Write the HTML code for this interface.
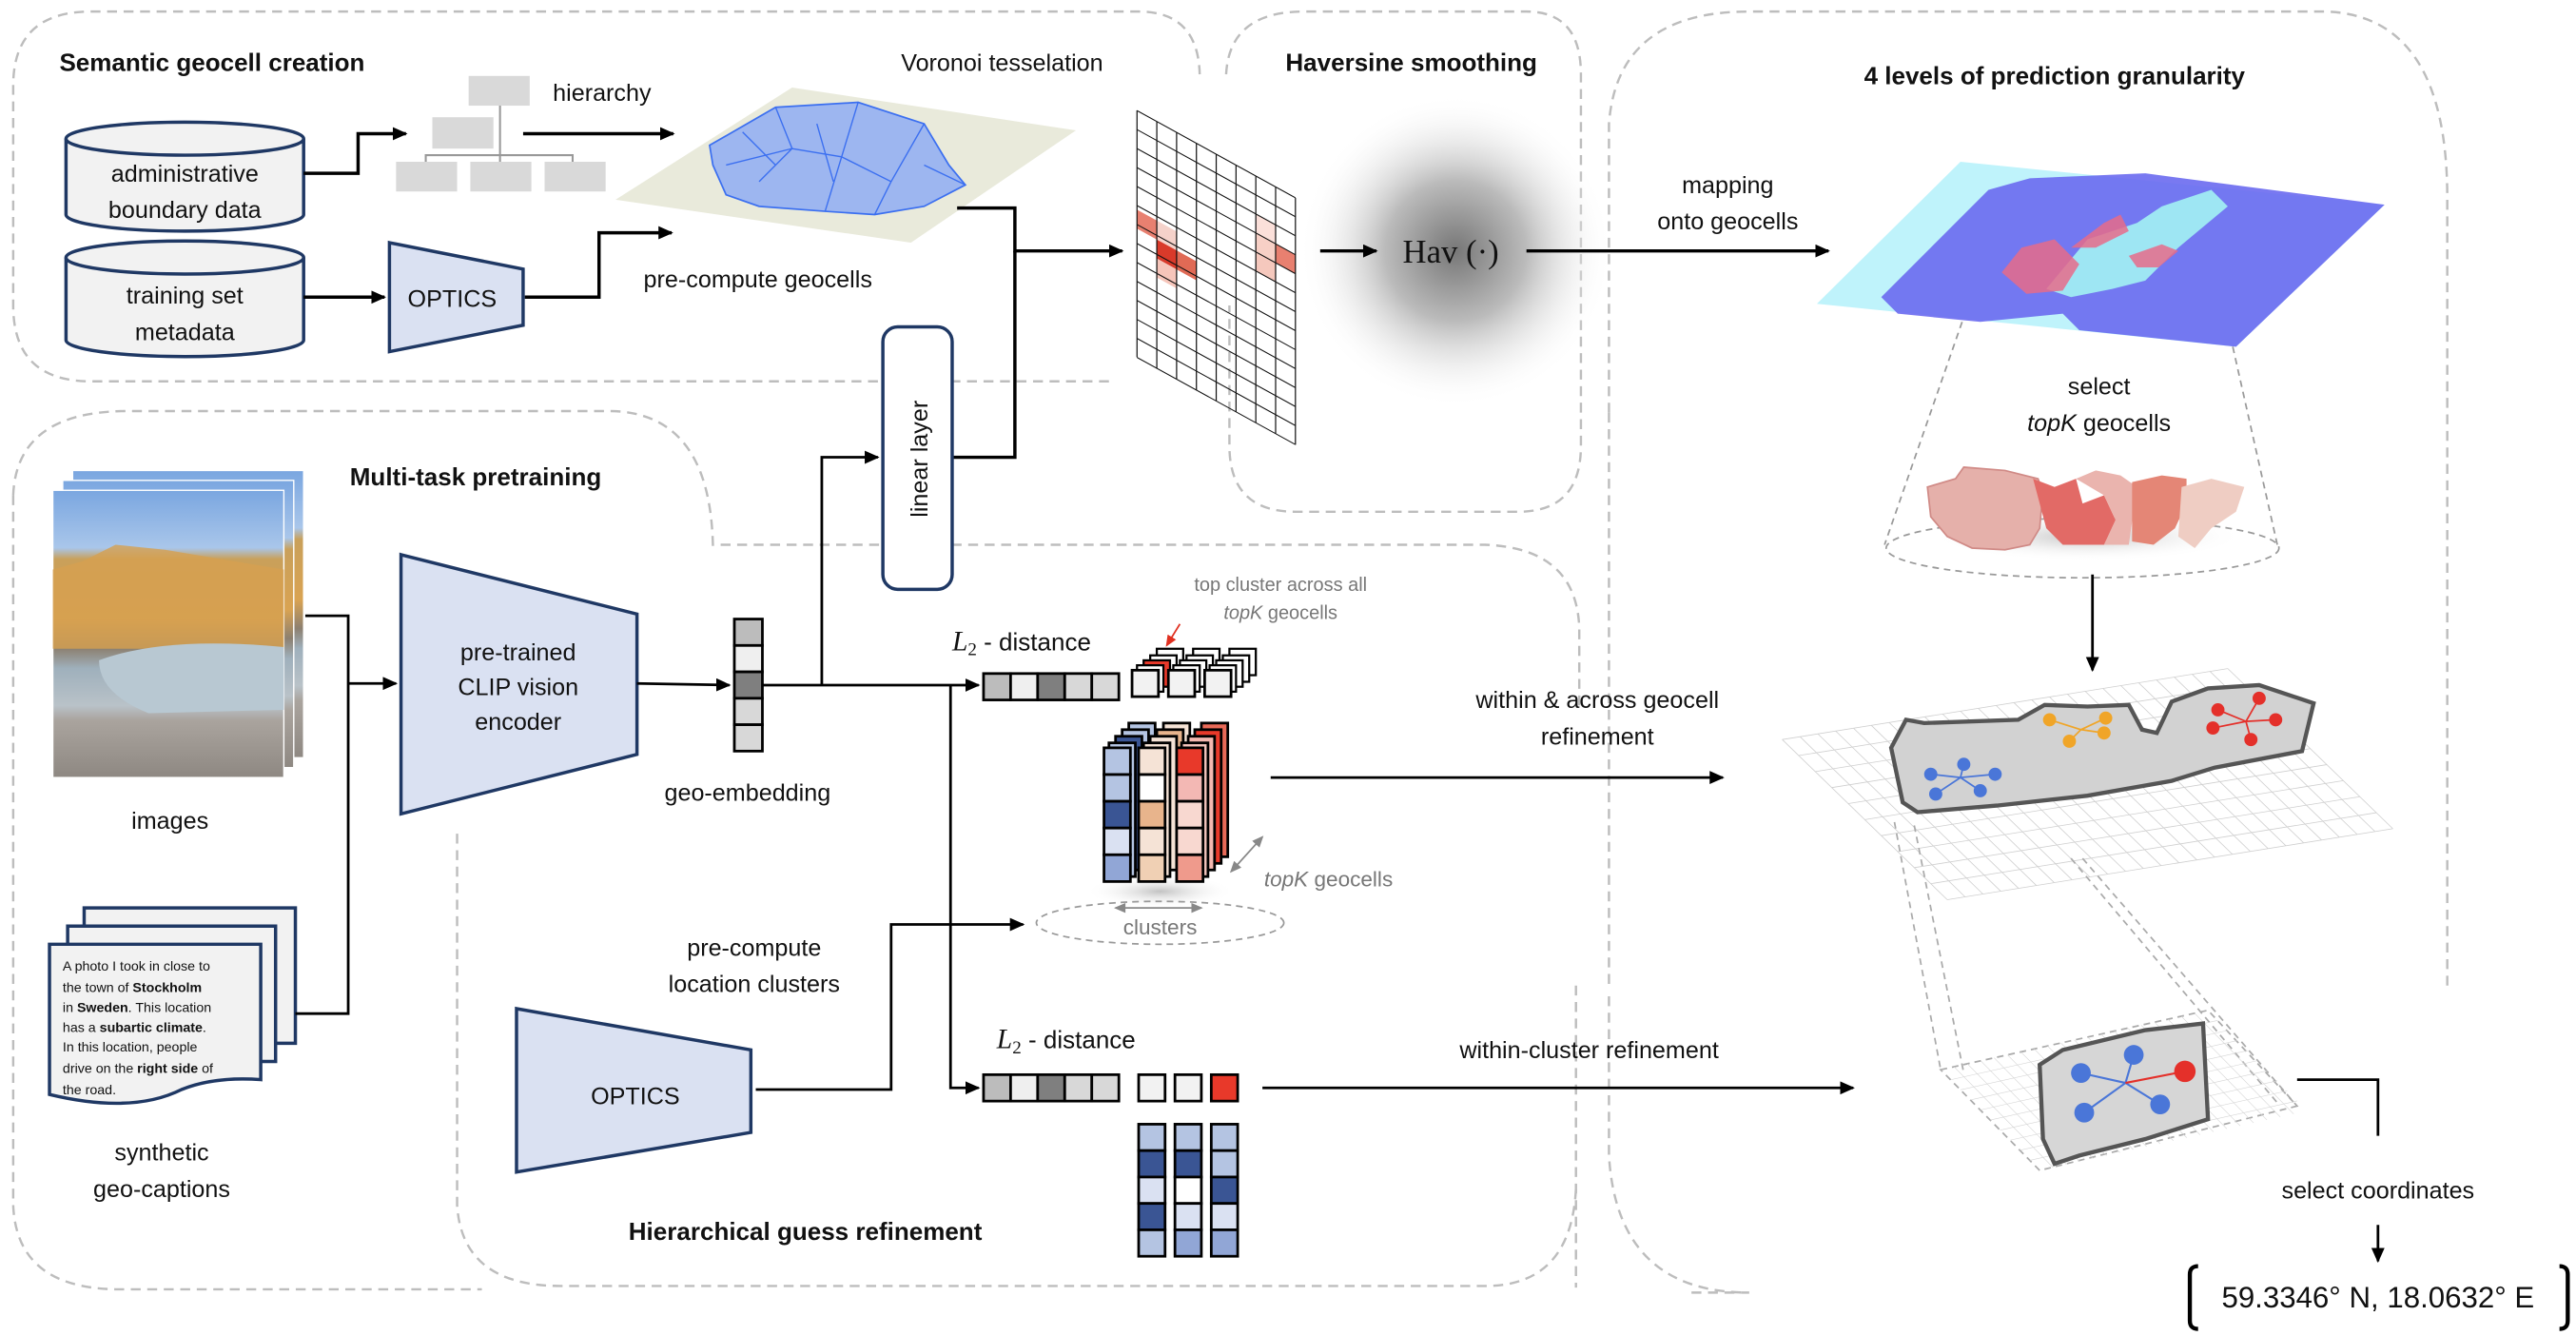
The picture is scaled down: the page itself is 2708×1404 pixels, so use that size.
<!DOCTYPE html>
<html><head><meta charset="utf-8">
<style>
html,body{margin:0;padding:0;background:#fff;}
svg{display:block;}
text{font-family:"Liberation Sans",sans-serif;fill:#111;}
.b{font-weight:bold;}
</style></head>
<body>
<svg width="2708" height="1404" viewBox="0 0 1561 809.3" preserveAspectRatio="none" xmlns="http://www.w3.org/2000/svg">
<defs>
<marker id="ar" markerWidth="10" markerHeight="10" refX="8" refY="4" orient="auto" markerUnits="userSpaceOnUse"><path d="M0,0 L9,4 L0,8 z" fill="#000"/></marker>
<marker id="ag" markerWidth="8" markerHeight="8" refX="6" refY="3" orient="auto" markerUnits="userSpaceOnUse"><path d="M0,0 L7,3 L0,6 z" fill="#888"/></marker>
<marker id="agr" markerWidth="8" markerHeight="8" refX="1" refY="3" orient="auto" markerUnits="userSpaceOnUse"><path d="M7,0 L0,3 L7,6 z" fill="#888"/></marker>
<marker id="arr" markerWidth="8" markerHeight="8" refX="6" refY="3" orient="auto" markerUnits="userSpaceOnUse"><path d="M0,0 L7,3 L0,6 z" fill="#e03020"/></marker>
<radialGradient id="hav"><stop offset="0" stop-color="#777"/><stop offset="0.45" stop-color="#bbb"/><stop offset="1" stop-color="#fff" stop-opacity="0"/></radialGradient>
<linearGradient id="photo" x1="0" y1="0" x2="0" y2="1">
<stop offset="0" stop-color="#7aa6e0"/><stop offset="0.2" stop-color="#a9c6ea"/><stop offset="0.24" stop-color="#c9a05a"/><stop offset="0.45" stop-color="#d9a352"/><stop offset="0.55" stop-color="#8c8070"/><stop offset="0.62" stop-color="#9fb0bc"/><stop offset="0.75" stop-color="#b9c2c8"/><stop offset="0.8" stop-color="#aaa49e"/><stop offset="1" stop-color="#8e8882"/></linearGradient>
<radialGradient id="shadow"><stop offset="0" stop-color="#999" stop-opacity="0.6"/><stop offset="1" stop-color="#fff" stop-opacity="0"/></radialGradient>
</defs>

<!-- dashed panels -->
<g fill="none" stroke="#bdbdbd" stroke-width="1.4" stroke-dasharray="6,4">
<path d="M672,231 L55,231 Q8,231 8,185 L8,52 Q8,7 55,7 L690,7 Q726,7 727,45"/>
<path d="M743,45 Q745,7 790,7 L925,7 Q958,7 958,45 L958,270 Q958,310 920,310 L785,310 Q745,310 745,270 L745,185"/>
<path d="M975,250 L975,75 Q980,7 1060,7 L1410,7 Q1483,10 1483,120 L1483,600"/>
<path d="M975,250 L975,597"/>
<path d="M955,597 L955,780"/>
<path d="M1025,783 L1060,783 Q980,783 975,700 L975,600"/>
<path d="M8,300 Q10,250 75,249 L370,249 Q430,250 432,330 L900,330 Q955,332 957,380 L957,430"/>
<path d="M8,300 L8,730 Q10,780 70,781 L292,781"/>
<path d="M277,505 L277,730 Q280,779 340,779 L900,779 Q952,779 955,720"/>
</g>

<!-- Semantic geocell creation -->
<text x="36" y="43" font-size="15" class="b">Semantic geocell creation</text>
<!-- cylinders -->
<g stroke="#1f3864" stroke-width="2" fill="#f2f2f2">
<path d="M40,84 L40,130 A72,10 0 0 0 184,130 L184,84"/>
<ellipse cx="112" cy="84" rx="72" ry="10"/>
<path d="M40,156 L40,206 A72,10 0 0 0 184,206 L184,156"/>
<ellipse cx="112" cy="156" rx="72" ry="10"/>
</g>
<text x="112" y="110" font-size="14.5" text-anchor="middle">administrative</text>
<text x="112" y="132" font-size="14.5" text-anchor="middle">boundary data</text>
<text x="112" y="184" font-size="14.5" text-anchor="middle">training set</text>
<text x="112" y="206" font-size="14.5" text-anchor="middle">metadata</text>
<!-- hierarchy -->
<g fill="#d9d9d9">
<rect x="284" y="46" width="37" height="18"/>
<rect x="262" y="71" width="37" height="19"/>
<rect x="240" y="98" width="37" height="18"/>
<rect x="285" y="98" width="37" height="18"/>
<rect x="330" y="98" width="37" height="18"/>
</g>
<path d="M303,64 L303,98 M258,98 L258,94 L347,94 L347,98" stroke="#999" stroke-width="1.2" fill="none"/>
<text x="335" y="61" font-size="14.5">hierarchy</text>
<g stroke="#000" stroke-width="2" fill="none">
<path d="M184,105 L217,105 L217,81 L246,81" marker-end="url(#ar)"/>
<path d="M317,81 L408,81" marker-end="url(#ar)"/>
<path d="M184,180 L233,180" marker-end="url(#ar)"/>
<path d="M318,180 L363,180 L363,141 L407,141" marker-end="url(#ar)"/>
</g>
<path d="M236,147 L317,163 L317,197 L236,213 Z" fill="#dae1f2" stroke="#1f3864" stroke-width="2"/>
<text x="274" y="186" font-size="14.5" text-anchor="middle">OPTICS</text>
<!-- voronoi map -->
<path d="M373,121 L480,53 L652,79 L552,147 Z" fill="#e9eadb"/>
<path d="M430,88 L470,65 L520,62 L560,75 L575,100 L585,112 L560,125 L530,130 L500,128 L460,125 L440,118 L432,100 Z" fill="#9db6f0" stroke="#3b6ff0" stroke-width="1"/>
<g stroke="#3b6ff0" stroke-width="0.8" fill="none">
<path d="M470,65 L480,90 L460,110 M480,90 L510,95 L520,62 M510,95 L540,110 L560,75 M540,110 L530,130 M510,95 L500,128 M440,100 L480,90 M560,100 L585,112 M450,80 L470,100 M495,75 L505,110"/>
</g>
<text x="546" y="43" font-size="14.5">Voronoi tesselation</text>
<text x="390" y="174" font-size="14.5">pre-compute geocells</text>
<g stroke="#000" stroke-width="2" fill="none">
<path d="M580,126 L615,126 L615,152 L680,152" marker-end="url(#ar)"/>
<path d="M577,277 L615,277 L615,152"/>
</g>
<!-- grid -->
<g transform="matrix(1,0.55,0,1,689,67)">
<rect x="0" y="60" width="12" height="11.5" fill="#e88070"/>
<rect x="12" y="60" width="12" height="11.5" fill="#f5d2ca"/>
<rect x="12" y="71.5" width="12" height="11.5" fill="#d93a2a"/>
<rect x="24" y="71.5" width="12" height="11.5" fill="#e06a55"/>
<rect x="12" y="83" width="12" height="11.5" fill="#f6c5ba"/>
<rect x="72" y="23" width="12" height="11.5" fill="#fbe0da"/>
<rect x="72" y="34.5" width="12" height="11.5" fill="#f7d0c6"/>
<rect x="72" y="46" width="12" height="11.5" fill="#f5c8bd"/>
<rect x="84" y="34.5" width="12" height="11.5" fill="#e88070"/>
<g stroke="#111" stroke-width="0.7">
<path d="M0,0V149.5M12,0V149.5M24,0V149.5M36,0V149.5M48,0V149.5M60,0V149.5M72,0V149.5M84,0V149.5M96,0V149.5"/>
<path d="M0,0H96M0,11.5H96M0,23H96M0,34.5H96M0,46H96M0,57.5H96M0,69H96M0,80.5H96M0,92H96M0,103.5H96M0,115H96M0,126.5H96M0,138H96M0,149.5H96"/>
</g>
</g>
<!-- Haversine -->
<text x="779" y="43" font-size="15" class="b">Haversine smoothing</text>
<circle cx="882" cy="152" r="95" fill="url(#hav)"/>
<path d="M800,152 L834,152" stroke="#000" stroke-width="2" marker-end="url(#ar)"/>
<text x="850" y="159" font-size="20" style="font-family:'Liberation Serif',serif">Hav (·)</text>
<path d="M925,152 L1108,152" stroke="#000" stroke-width="2" marker-end="url(#ar)"/>
<text x="1047" y="117" font-size="14.5" text-anchor="middle">mapping</text>
<text x="1047" y="139" font-size="14.5" text-anchor="middle">onto geocells</text>

<!-- Right panel -->
<text x="1245" y="51" font-size="15" class="b" text-anchor="middle">4 levels of prediction granularity</text>
<path d="M1101,184 L1188,98 L1445,124 L1355,210 Z" fill="#bff3fb"/>
<path d="M1140,180 L1170,150 L1205,115 L1230,108 L1300,105 L1445,124 L1355,210 L1260,200 L1250,190 L1200,195 L1150,190 Z" fill="#6a6af0" opacity="0.9"/>
<path d="M1240,175 L1265,145 L1295,135 L1310,125 L1340,115 L1350,125 L1320,150 L1300,170 L1280,175 L1255,180 Z" fill="#9ee6f3"/>
<path d="M1213,165 L1225,150 L1245,145 L1260,160 L1250,176 L1228,178 Z" fill="#e66b8a" opacity="0.85"/>
<path d="M1255,150 L1275,135 L1285,130 L1290,140 L1270,150 Z" fill="#e66b8a" opacity="0.85"/>
<path d="M1290,155 L1310,148 L1320,152 L1308,162 L1295,162 Z" fill="#e66b8a" opacity="0.85"/>
<text x="1272" y="239" font-size="14.5" text-anchor="middle">select</text>
<text x="1272" y="261" font-size="14.5" text-anchor="middle"><tspan font-style="italic">topK</tspan> geocells</text>
<g stroke="#999" stroke-width="1" stroke-dasharray="4,3" fill="none">
<path d="M1189,195 L1142,330"/><path d="M1353,210 L1380,330"/>
<ellipse cx="1262" cy="332" rx="119" ry="18"/>
</g>
<ellipse cx="1265" cy="325" rx="95" ry="15" fill="url(#shadow)"/>
<path d="M1168,295 L1185,290 L1190,283 L1215,285 L1235,290 L1238,298 L1236,320 L1230,330 L1215,333 L1195,332 L1180,325 L1170,313 Z" fill="#e5b0aa" stroke="#d08a86" stroke-width="1"/>
<path d="M1232,290 L1245,295 L1258,290 L1262,305 L1275,300 L1282,315 L1275,330 L1250,330 L1240,320 Z" fill="#e26a66"/>
<path d="M1258,290 L1270,285 L1285,288 L1295,295 L1290,330 L1275,330 L1282,315 L1275,300 Z" fill="#eab4ae"/>
<path d="M1292,292 L1310,288 L1325,290 L1325,305 L1318,320 L1305,330 L1292,328 Z" fill="#e48676"/>
<path d="M1322,295 L1340,290 L1360,295 L1355,310 L1340,320 L1330,332 L1320,325 Z" fill="#efcdc3"/>
<path d="M1268,348 L1268,406" stroke="#000" stroke-width="1.6" marker-end="url(#ar)"/>

<!-- grid plane big -->
<g transform="matrix(270,-43,100,97,1080,448)" stroke="#cfcfcf" fill="none">
<path vector-effect="non-scaling-stroke" stroke-width="0.8" d="M0,0V1M0.04,0V1M0.08,0V1M0.12,0V1M0.16,0V1M0.2,0V1M0.24,0V1M0.28,0V1M0.32,0V1M0.36,0V1M0.4,0V1M0.44,0V1M0.48,0V1M0.52,0V1M0.56,0V1M0.6,0V1M0.64,0V1M0.68,0V1M0.72,0V1M0.76,0V1M0.8,0V1M0.84,0V1M0.88,0V1M0.92,0V1M0.96,0V1M1,0V1"/>
<path vector-effect="non-scaling-stroke" stroke-width="0.8" d="M0,0H1M0,0.1H1M0,0.2H1M0,0.3H1M0,0.4H1M0,0.5H1M0,0.6H1M0,0.7H1M0,0.8H1M0,0.9H1M0,1H1"/>
</g>
<path d="M1146,453 L1155,436 L1166,438 L1223,436 L1239,427 L1265,428 L1290,427 L1298,442 L1307,444 L1316,425 L1338,417 L1369,415 L1402,426 L1395,455 L1342,465 L1316,473 L1265,482 L1210,488 L1162,492 L1153,486 Z" fill="#d2d2d2" stroke="#555" stroke-width="2.5"/>
<g stroke-width="1">
<g stroke="#4a76d8" fill="#4a76d8"><path d="M1188,471 L1170,469 M1188,471 L1190,463 M1188,471 L1209,469 M1188,471 L1200,479 M1188,471 L1173,481"/>
<circle cx="1170" cy="469" r="3.5"/><circle cx="1190" cy="463" r="3.5"/><circle cx="1209" cy="469" r="3.5"/><circle cx="1200" cy="479" r="3.5"/><circle cx="1173" cy="481" r="3.5"/></g>
<g stroke="#f0a528" fill="#f0a528"><path d="M1261,442 L1242,436 M1261,442 L1276,435 M1261,442 L1275,444 M1261,442 L1254,449"/>
<circle cx="1242" cy="436" r="3.5"/><circle cx="1276" cy="435" r="3.5"/><circle cx="1275" cy="444" r="3.5"/><circle cx="1254" cy="449" r="3.5"/></g>
<g stroke="#e4302a" fill="#e4302a"><path d="M1361,437 L1344,430 M1361,437 L1369,423 M1361,437 L1379,436 M1361,437 L1364,448 M1361,437 L1341,441"/>
<circle cx="1344" cy="430" r="3.5"/><circle cx="1369" cy="423" r="3.5"/><circle cx="1379" cy="436" r="3.5"/><circle cx="1364" cy="448" r="3.5"/><circle cx="1341" cy="441" r="3.5"/></g>
</g>
<g stroke="#aaa" stroke-width="1" stroke-dasharray="4,3" fill="none">
<path d="M1148,498 L1176,648"/><path d="M1160,500 L1190,650"/>
<path d="M1255,520 L1380,668"/><path d="M1262,520 L1392,670"/>
<path d="M1176,648 L1338,612 L1392,670 L1236,709 Z"/>
</g>
<g transform="matrix(162,-36,60,61,1176,648)" stroke="#d5d5d5" fill="none">
<path vector-effect="non-scaling-stroke" stroke-width="0.6" d="M0.05,0V1M0.1,0V1M0.15,0V1M0.2,0V1M0.25,0V1M0.3,0V1M0.35,0V1M0.4,0V1M0.45,0V1M0.5,0V1M0.55,0V1M0.6,0V1M0.65,0V1M0.7,0V1M0.75,0V1M0.8,0V1M0.85,0V1M0.9,0V1M0.95,0V1"/>
<path vector-effect="non-scaling-stroke" stroke-width="0.6" d="M0,0.1H1M0,0.2H1M0,0.3H1M0,0.4H1M0,0.5H1M0,0.6H1M0,0.7H1M0,0.8H1M0,0.9H1"/>
</g>
<path d="M1236,645 L1250,636 L1300,624 L1335,620 L1338,678 L1300,690 L1260,700 L1245,705 L1238,690 Z" fill="#d6d6d6" stroke="#555" stroke-width="2.5"/>
<g stroke-width="1.2">
<path d="M1288,656 L1261,650 M1288,656 L1293,639 M1288,656 L1263,674 M1288,656 L1309,669" stroke="#4a76d8"/>
<path d="M1288,656 L1324,649" stroke="#e4302a"/>
<g fill="#4a76d8"><circle cx="1261" cy="650" r="6"/><circle cx="1293" cy="639" r="6"/><circle cx="1263" cy="674" r="6"/><circle cx="1309" cy="669" r="6"/></g>
<circle cx="1324" cy="649" r="6.5" fill="#e4302a"/>
</g>
<path d="M1392,654 L1441,654 L1441,688" stroke="#000" stroke-width="1.6" fill="none"/>
<text x="1441" y="726" font-size="14.5" text-anchor="middle">select coordinates</text>
<path d="M1441,742 L1441,764" stroke="#000" stroke-width="1.6" marker-end="url(#ar)"/>
<path d="M1332,767 Q1327,767 1327,772 L1327,800 Q1327,805 1332,805" stroke="#000" stroke-width="2.5" fill="none"/>
<path d="M1551,767 Q1556,767 1556,772 L1556,800 Q1556,805 1551,805" stroke="#000" stroke-width="2.5" fill="none"/>
<text x="1441" y="792" font-size="18" text-anchor="middle">59.3346° N, 18.0632° E</text>

<!-- Multi-task -->
<text x="212" y="294" font-size="15" class="b">Multi-task pretraining</text>
<rect x="44" y="285" width="140" height="174" fill="url(#photo)" stroke="#fff" stroke-width="0.8"/>
<rect x="38" y="291" width="140" height="174" fill="url(#photo)" stroke="#fff" stroke-width="0.8"/>
<rect x="32" y="297" width="140" height="174" fill="url(#photo)" stroke="#fff" stroke-width="0.8"/>
<path d="M32,345 L50,340 L70,330 L100,333 L130,338 L172,345 L172,393 L32,393 Z" fill="#d6a050" opacity="0.8"/>
<path d="M60,400 Q100,385 172,392 L172,430 L90,432 Q60,420 60,400Z" fill="#b8c8d2"/>
<text x="103" y="502" font-size="14.5" text-anchor="middle">images</text>
<g stroke="#1f3864" stroke-width="2" fill="#f2f2f2">
<path d="M51,550 L179,550 L179,632 L51,632 Z"/>
<path d="M41,561 L167,561 L167,643 L41,643 Z"/>
<path d="M30,572 L158,572 L158,654 Q130,652 110,660 Q80,675 30,663 Z"/>
</g>
<g font-size="8.2">
<text x="38" y="588">A photo I took in close to</text>
<text x="38" y="601">the town of <tspan class="b">Stockholm</tspan></text>
<text x="38" y="613">in <tspan class="b">Sweden</tspan>. This location</text>
<text x="38" y="625">has a <tspan class="b">subartic climate</tspan>.</text>
<text x="38" y="637">In this location, people</text>
<text x="38" y="650">drive on the <tspan class="b">right side</tspan> of</text>
<text x="38" y="663">the road.</text>
</g>
<text x="98" y="703" font-size="14.5" text-anchor="middle">synthetic</text>
<text x="98" y="725" font-size="14.5" text-anchor="middle">geo-captions</text>
<g stroke="#000" stroke-width="1.6" fill="none">
<path d="M185,373 L211,373 L211,614 L179,614"/>
<path d="M211,414 L240,414" marker-end="url(#ar)"/>
</g>
<path d="M243,336 L386,372 L386,457 L243,493 Z" fill="#dae1f2" stroke="#1f3864" stroke-width="2"/>
<text x="314" y="400" font-size="14.5" text-anchor="middle">pre-trained</text>
<text x="314" y="421" font-size="14.5" text-anchor="middle">CLIP vision</text>
<text x="314" y="442" font-size="14.5" text-anchor="middle">encoder</text>
<path d="M386,414 L442,415" stroke="#000" stroke-width="1.6" marker-end="url(#ar)"/>
<g stroke="#000" stroke-width="1.6">
<rect x="445" y="375" width="17" height="16" fill="#bcbcbc"/>
<rect x="445" y="391" width="17" height="16" fill="#efefef"/>
<rect x="445" y="407" width="17" height="16" fill="#7f7f7f"/>
<rect x="445" y="423" width="17" height="16" fill="#d8d8d8"/>
<rect x="445" y="439" width="17" height="16" fill="#d8d8d8"/>
</g>
<text x="453" y="485" font-size="14.5" text-anchor="middle">geo-embedding</text>
<g stroke="#000" stroke-width="1.6" fill="none">
<path d="M462,415 L593,415" marker-end="url(#ar)"/>
<path d="M498,415 L498,277 L532,277" marker-end="url(#ar)"/>
<path d="M576,415 L576,659 L593,659" marker-end="url(#ar)"/>
<path d="M458,660 L540,660 L540,560 L620,560" marker-end="url(#ar)"/>
<path d="M770,471 L1044,471" marker-end="url(#ar)"/>
<path d="M765,659 L1123,659" marker-end="url(#ar)"/>
</g>
<rect x="535" y="198" width="42" height="159" rx="9" fill="#fff" stroke="#1f3864" stroke-width="2"/>
<text transform="translate(562,278) rotate(-90)" font-size="14.5" text-anchor="middle">linear layer</text>

<!-- Hierarchical -->
<path d="M313,611 L455,636 L455,686 L313,710 Z" fill="#dae1f2" stroke="#1f3864" stroke-width="2"/>
<text x="385" y="669" font-size="14.5" text-anchor="middle">OPTICS</text>
<text x="457" y="579" font-size="14.5" text-anchor="middle">pre-compute</text>
<text x="457" y="601" font-size="14.5" text-anchor="middle">location clusters</text>
<text x="488" y="751" font-size="15" class="b" text-anchor="middle">Hierarchical guess refinement</text>

<text x="577" y="394" font-size="15"><tspan style="font-family:'Liberation Serif',serif" font-style="italic" font-size="17">L</tspan><tspan font-size="11" dy="3" style="font-family:'Liberation Serif',serif">2</tspan><tspan dy="-3"> - distance</tspan></text>
<g stroke="#000" stroke-width="1.6">
<rect x="596" y="408" width="16.4" height="16" fill="#bcbcbc"/><rect x="612.4" y="408" width="16.4" height="16" fill="#efefef"/><rect x="628.8" y="408" width="16.4" height="16" fill="#7f7f7f"/><rect x="645.2" y="408" width="16.4" height="16" fill="#d8d8d8"/><rect x="661.6" y="408" width="16.4" height="16" fill="#d8d8d8"/>
</g>
<!-- small stacked boxes -->
<g stroke="#000" stroke-width="1.3" fill="#fff">
<g transform="translate(15,-13)"><rect x="686" y="406" width="16" height="16"/><rect x="708" y="406" width="16" height="16"/><rect x="730" y="406" width="16" height="16"/></g>
<g transform="translate(11,-9)"><rect x="686" y="406" width="16" height="16"/><rect x="708" y="406" width="16" height="16"/><rect x="730" y="406" width="16" height="16"/></g>
<g transform="translate(7,-6)"><rect x="686" y="406" width="16" height="16" fill="#e8392a"/><rect x="708" y="406" width="16" height="16"/><rect x="730" y="406" width="16" height="16"/></g>
<g transform="translate(3,-3)"><rect x="686" y="406" width="16" height="16"/><rect x="708" y="406" width="16" height="16"/><rect x="730" y="406" width="16" height="16"/></g>
<g fill="#f2f2f2" stroke-width="1.6"><rect x="686" y="406" width="16" height="16"/><rect x="708" y="406" width="16" height="16"/><rect x="730" y="406" width="16" height="16"/></g>
</g>
<text x="776" y="358" font-size="11.5" fill="#777" style="fill:#777" text-anchor="middle">top cluster across all</text>
<text x="776" y="375" font-size="11.5" style="fill:#777" text-anchor="middle"><tspan font-style="italic">topK</tspan> geocells</text>
<path d="M715,378 L707,391" stroke="#e03020" stroke-width="1" marker-end="url(#arr)"/>
<!-- 3D stacks -->
<ellipse cx="703" cy="540" rx="45" ry="10" fill="url(#shadow)"/>
<g stroke="#000" stroke-width="1.6">
<g transform="translate(15,-15)">
<g fill="#b4c4e2"><rect x="669" y="453" width="16" height="81"/></g>
<g fill="#f5e3d6"><rect x="690" y="453" width="16" height="81"/></g>
<g fill="#e96a58"><rect x="713" y="453" width="16" height="81"/></g></g>
<g transform="translate(11,-11)">
<g fill="#b4c4e2"><rect x="669" y="453" width="16" height="81"/></g>
<g fill="#e8b48c"><rect x="690" y="453" width="16" height="81"/></g>
<g fill="#e8392a"><rect x="713" y="453" width="16" height="81"/></g></g>
<g transform="translate(7,-7)">
<g fill="#3a5594"><rect x="669" y="453" width="16" height="81"/></g>
<g fill="#f5e3d6"><rect x="690" y="453" width="16" height="81"/></g>
<g fill="#f3b8b0"><rect x="713" y="453" width="16" height="81"/></g></g>
<g transform="translate(3,-3)">
<g fill="#b4c4e2"><rect x="669" y="453" width="16" height="81"/></g>
<g fill="#f5e3d6"><rect x="690" y="453" width="16" height="81"/></g>
<g fill="#f3c4bc"><rect x="713" y="453" width="16" height="81"/></g></g>
<rect x="669" y="453" width="16" height="16.2" fill="#b4c4e2"/><rect x="669" y="469.2" width="16" height="16.2" fill="#b4c4e2"/><rect x="669" y="485.4" width="16" height="16.2" fill="#3a5594"/><rect x="669" y="501.6" width="16" height="16.2" fill="#dae1f2"/><rect x="669" y="517.8" width="16" height="16.2" fill="#91a6d6"/>
<rect x="690" y="453" width="16" height="16.2" fill="#f5e3d6"/><rect x="690" y="469.2" width="16" height="16.2" fill="#fff"/><rect x="690" y="485.4" width="16" height="16.2" fill="#e8b48c"/><rect x="690" y="501.6" width="16" height="16.2" fill="#f5e3d6"/><rect x="690" y="517.8" width="16" height="16.2" fill="#f0d0b4"/>
<rect x="713" y="453" width="16" height="16.2" fill="#e8392a"/><rect x="713" y="469.2" width="16" height="16.2" fill="#f3b8b4"/><rect x="713" y="485.4" width="16" height="16.2" fill="#f8d8d0"/><rect x="713" y="501.6" width="16" height="16.2" fill="#f8d8d0"/><rect x="713" y="517.8" width="16" height="16.2" fill="#ef9a8c"/>
</g>
<ellipse cx="703" cy="559" rx="75" ry="13" fill="none" stroke="#999" stroke-width="1" stroke-dasharray="4,3"/>
<path d="M676,550 L728,550" stroke="#888" stroke-width="1" marker-end="url(#ag)" marker-start="url(#agr)"/>
<text x="703" y="566" font-size="13" style="fill:#777" text-anchor="middle">clusters</text>
<path d="M746,528 L765,507" stroke="#888" stroke-width="1" marker-end="url(#ag)" marker-start="url(#agr)"/>
<text x="766" y="537" font-size="13" style="fill:#777"><tspan font-style="italic">topK</tspan> geocells</text>
<text x="968" y="429" font-size="14.5" text-anchor="middle">within &amp; across geocell</text>
<text x="968" y="451" font-size="14.5" text-anchor="middle">refinement</text>

<text x="604" y="635" font-size="15"><tspan style="font-family:'Liberation Serif',serif" font-style="italic" font-size="17">L</tspan><tspan font-size="11" dy="3" style="font-family:'Liberation Serif',serif">2</tspan><tspan dy="-3"> - distance</tspan></text>
<g stroke="#000" stroke-width="1.6">
<rect x="596" y="651" width="16.4" height="16" fill="#bcbcbc"/><rect x="612.4" y="651" width="16.4" height="16" fill="#efefef"/><rect x="628.8" y="651" width="16.4" height="16" fill="#7f7f7f"/><rect x="645.2" y="651" width="16.4" height="16" fill="#d8d8d8"/><rect x="661.6" y="651" width="16.4" height="16" fill="#d8d8d8"/>
<rect x="690" y="651" width="16" height="16" fill="#f2f2f2"/><rect x="712" y="651" width="16" height="16" fill="#f2f2f2"/><rect x="734" y="651" width="16" height="16" fill="#e8392a"/>
<rect x="690" y="681" width="16" height="16" fill="#b4c4e2"/><rect x="690" y="697" width="16" height="16" fill="#3a5594"/><rect x="690" y="713" width="16" height="16" fill="#dae1f2"/><rect x="690" y="729" width="16" height="16" fill="#3a5594"/><rect x="690" y="745" width="16" height="16" fill="#b4c4e2"/>
<rect x="712" y="681" width="16" height="16" fill="#b4c4e2"/><rect x="712" y="697" width="16" height="16" fill="#3a5594"/><rect x="712" y="713" width="16" height="16" fill="#fff"/><rect x="712" y="729" width="16" height="16" fill="#dae1f2"/><rect x="712" y="745" width="16" height="16" fill="#91a6d6"/>
<rect x="734" y="681" width="16" height="16" fill="#b4c4e2"/><rect x="734" y="697" width="16" height="16" fill="#b4c4e2"/><rect x="734" y="713" width="16" height="16" fill="#3a5594"/><rect x="734" y="729" width="16" height="16" fill="#dae1f2"/><rect x="734" y="745" width="16" height="16" fill="#91a6d6"/>
</g>
<text x="963" y="641" font-size="14.5" text-anchor="middle">within-cluster refinement</text>
</svg>
</body></html>
